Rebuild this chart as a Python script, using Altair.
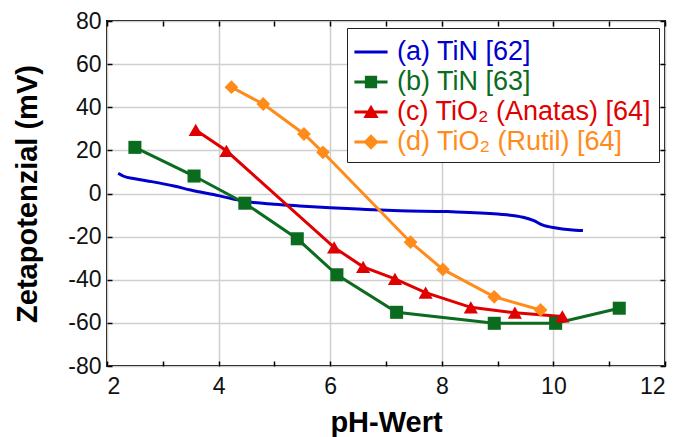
import altair as alt
import pandas as pd

series_names = ["(a) TiN [62]", "(b) TiN [63]", "(c) TiO₂ (Anatas) [64]", "(d) TiO₂ (Rutil) [64]"]
colors = ["#0000CC", "#0B6B1E", "#E00000", "#FF8C1A"]
marker_shapes = ["circle", "square", "triangle-up", "diamond"]
marker_sizes = [0, 170, 200, 190]

ph_a = [2.2, 2.3, 2.5, 2.8, 3.2, 3.5, 4.0, 4.45, 5.0, 5.45, 6.0, 6.5, 6.9, 7.25, 8.1, 9.0, 9.45, 9.65, 9.8, 10.05, 10.3, 10.53]
zeta_a = [9.4, 8.0, 6.8, 5.5, 3.5, 1.6, -1.0, -3.6, -5.0, -5.8, -6.6, -7.2, -7.7, -8.0, -8.4, -9.5, -11.0, -12.6, -14.6, -16.0, -16.8, -17.2]

ph_b = [2.5, 3.56, 4.47, 5.41, 6.12, 7.19, 8.94, 10.04, 11.18]
zeta_b = [21.4, 8.1, -4.5, -21.0, -37.7, -55.1, -60.2, -60.2, -53.2]

ph_c = [3.59, 4.14, 6.07, 6.59, 7.16, 7.71, 8.52, 9.31, 10.16]
zeta_c = [29.5, 19.8, -25.0, -34.0, -39.6, -46.0, -52.8, -55.3, -57.0]

ph_d = [4.23, 4.80, 5.53, 5.87, 7.44, 8.02, 8.94, 9.77]
zeta_d = [49.3, 41.5, 27.6, 19.1, -22.6, -35.2, -47.9, -54.0]

x_ticks = list(range(2, 13))
y_ticks = list(range(-80, 81, 20))

rows = []
for name, xs, ys in zip(series_names, [ph_a, ph_b, ph_c, ph_d], [zeta_a, zeta_b, zeta_c, zeta_d]):
    for i, (x, y) in enumerate(zip(xs, ys)):
        rows.append({"series": name, "ph": x, "zeta": y, "idx": i})
df = pd.DataFrame(rows)

# legend symbol paths (line + marker)
line_p = "M-1,-0.09H1V0.09H-1Z"
sym_paths = [
    line_p,
    line_p + "M-0.37,-0.37H0.37V0.37H-0.37Z",
    line_p + "M0,-0.44L0.46,0.36H-0.46Z",
    line_p + "M0,-0.46L0.46,0L0,0.46L-0.46,0Z",
]


def nested(values):
    expr = "'" + values[-1] + "'"
    for name, v in reversed(list(zip(series_names[:-1], values[:-1]))):
        expr = "datum.value === '" + name + "' ? '" + v + "' : (" + expr + ")"
    return expr


xscale = alt.Scale(domain=[2, 12], nice=False, zero=False)
yscale = alt.Scale(domain=[-80, 80], nice=False, zero=False)
cscale = alt.Scale(domain=series_names, range=colors)

FONT = "Liberation Sans"

base = alt.Chart(df)

blue = base.transform_filter(alt.datum.series == series_names[0]).mark_line(
    strokeWidth=3, interpolate="monotone"
).encode(
    x=alt.X("ph:Q", scale=xscale, axis=alt.Axis(
        orient="bottom", values=x_ticks, offset=-5, tickSize=5, domain=False,
        labelExpr="datum.value % 2 === 0 ? '' + datum.value : ''",
        grid=True,
        gridOpacity={"condition": {"test": "datum.value % 2 === 0", "value": 1}, "value": 0},
        labelPadding=9, title="pH-Wert", titlePadding=10,
    )),
    y=alt.Y("zeta:Q", scale=yscale, axis=alt.Axis(
        orient="left", values=y_ticks, offset=-5, tickSize=5, domain=False,
        labelExpr="'' + datum.value",
        grid=True, labelPadding=6, title="Zetapotenzial (mV)", titlePadding=25,
    )),
    color=alt.Color("series:N", scale=cscale, legend=alt.Legend(
        title=None, orient="none", legendX=240, legendY=7,
        symbolType=alt.ExprRef(expr=nested(sym_paths)),
        labelColor=alt.ExprRef(expr=nested(colors)),
        symbolFillColor=alt.ExprRef(expr=nested(colors)),
        symbolSize=1100, symbolStrokeWidth=0,
        labelFontSize=27, labelFont=FONT, labelOffset=9, labelLimit=0,
        rowPadding=0, padding=7, strokeColor="#222222", fillColor="white",
        cornerRadius=0,
    )),
    order="idx:Q",
)

lines = base.transform_filter(alt.datum.series != series_names[0]).mark_line(
    strokeWidth=3
).encode(
    x=alt.X("ph:Q", scale=xscale, axis=None),
    y=alt.Y("zeta:Q", scale=yscale, axis=None),
    color=alt.Color("series:N", scale=cscale),
    order="idx:Q",
)

point_layers = []
for k in range(1, 4):
    first = k == 1
    point_layers.append(
        base.transform_filter(alt.datum.series == series_names[k]).mark_point(
            filled=True, opacity=1, shape=marker_shapes[k], size=marker_sizes[k],
            color=colors[k],
        ).encode(
            x=alt.X("ph:Q", scale=xscale, axis=alt.Axis(
                orient="top", values=x_ticks, offset=-5, tickSize=5, domain=False,
                labels=False, grid=False, title=None,
            ) if first else None),
            y=alt.Y("zeta:Q", scale=yscale, axis=alt.Axis(
                orient="right", values=y_ticks, offset=-5, tickSize=5, domain=False,
                labels=False, grid=False, title=None,
            ) if first else None),
        )
    )

chart = alt.layer(blue, lines, *point_layers).resolve_axis(
    x="independent", y="independent"
).properties(
    width=558, height=345,
    autosize=alt.AutoSizeParams(type="none"),
    padding={"left": 107, "top": 21, "right": 17, "bottom": 71},
).configure(
    font=FONT,
).configure_view(
    stroke="black", strokeWidth=2,
).configure_axis(
    labelFont=FONT, labelFontSize=23, labelColor="#111111",
    titleFont=FONT, titleFontSize=29, titleFontWeight="bold", titleColor="black",
    tickColor="black", tickWidth=1.5,
    gridColor="#cfcfcf", gridWidth=1.5,
)

chart.save("out.html", embed_options={"renderer": "svg", "actions": False})
